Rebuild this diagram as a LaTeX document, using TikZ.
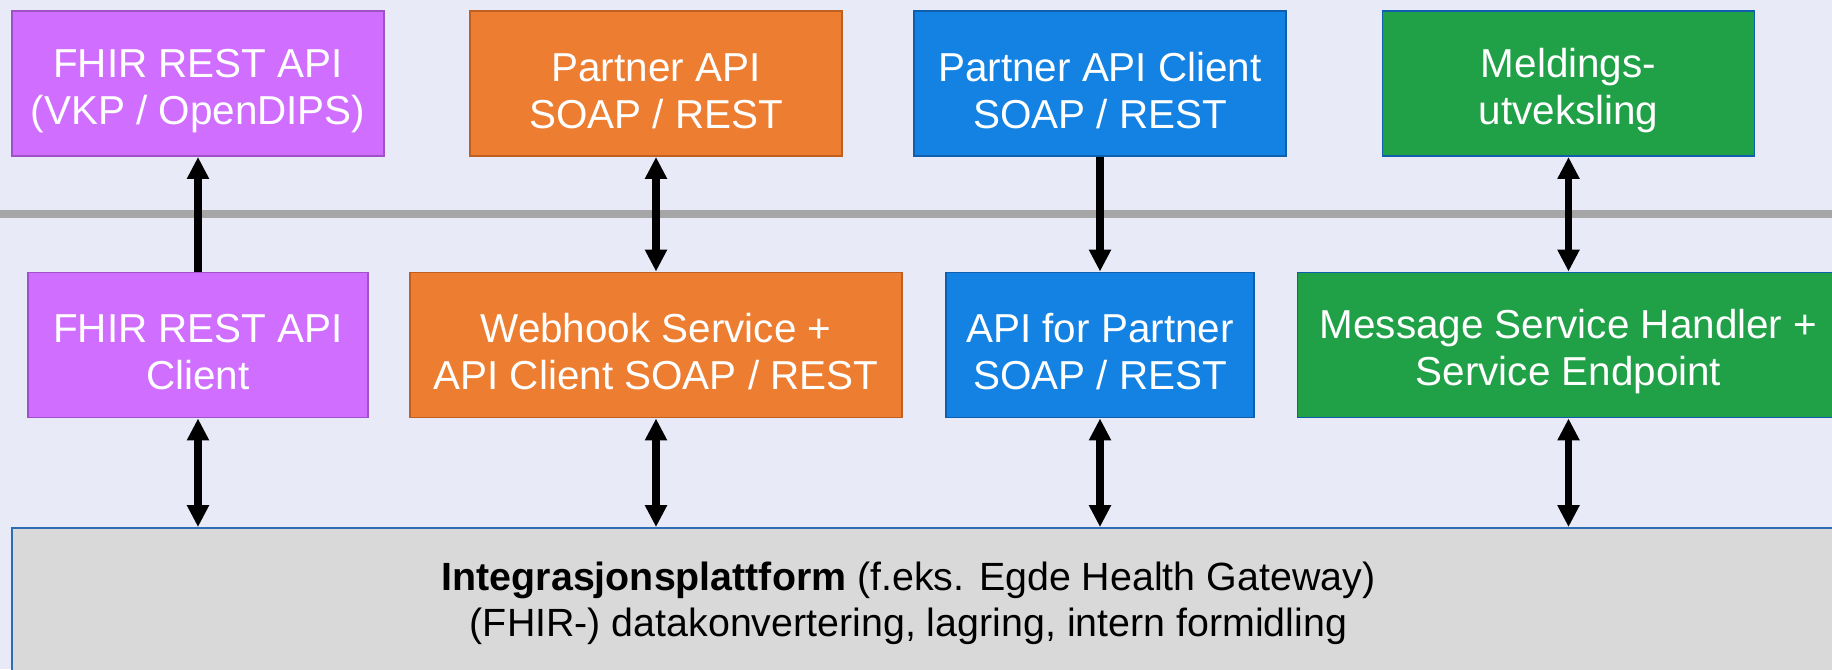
\documentclass[tikz,border=0pt]{standalone}
\usepackage{fontspec}
\setmainfont{Liberation Sans}
\usepackage{xcolor}
\usetikzlibrary{arrows.meta}
\definecolor{bgcol}{RGB}{232,234,248}
\definecolor{purplefill}{RGB}{208,110,255}
\definecolor{purpleline}{RGB}{160,80,200}
\definecolor{orangefill}{RGB}{237,125,49}
\definecolor{orangeline}{RGB}{192,96,32}
\definecolor{bluefill}{RGB}{19,130,227}
\definecolor{blueline}{RGB}{16,95,175}
\definecolor{greenfill}{RGB}{33,161,71}
\definecolor{sepcol}{RGB}{166,166,166}
\definecolor{basefill}{RGB}{217,217,217}
\definecolor{baseline}{RGB}{46,109,180}
\newcommand{\lift}{\rule{0pt}{1.07em}}

\begin{document}
\begin{tikzpicture}[-,node distance=5.23cm,
		main node/.style={rectangle, draw, line width=1.1pt, text=white, align=center, minimum height=2.9cm, font=\fontsize{23}{26.7}\selectfont},
		purple node/.style={main node, fill=purplefill, draw=purpleline},
		orange node/.style={main node, fill=orangefill, draw=orangeline},
		blue node/.style={main node, fill=bluefill, draw=blueline},
		green node/.style={main node, fill=greenfill, draw=blueline},
		link/.style={line width=4.5pt, -{Triangle[length=0.44cm,width=0.42cm]}},
		both link/.style={link, {Triangle[length=0.44cm,width=0.42cm]}-{Triangle[length=0.44cm,width=0.42cm]}}]
	\useasboundingbox (0,0) rectangle (36.64,-13.38);
	\clip (0,0) rectangle (36.64,-13.38);
	\fill[bgcol] (0,0) rectangle (36.64,-13.38);
	
	% Nodes
	\node[purple node, minimum width=7.44cm] (1) at (3.96,-1.67) {\lift FHIR REST API\\(VKP / OpenDIPS)};
	\node[orange node, minimum width=7.44cm] (2) at (13.12,-1.67) {\lift Partner API\\SOAP / REST};
	\node[blue node, minimum width=7.44cm] (3) at (22.0,-1.67) {\lift Partner API Client\\SOAP / REST};
	\node[green node, minimum width=7.44cm] (4) at (31.37,-1.67) {\lift Meldings-\\utveksling};
	
	\node[purple node, minimum width=6.8cm] (5) [below of=1] {\lift FHIR REST API\\Client};
	\node[orange node, minimum width=9.84cm] (6) [below of=2] {\lift Webhook Service +\\API Client SOAP / REST};
	\node[blue node, minimum width=6.16cm] (7) [below of=3] {\lift API for Partner\\SOAP / REST};
	\node[green node, minimum width=10.84cm] (8) [below of=4] {\lift Message Service Handler +\\Service Endpoint};
	
	\node[rectangle, draw=baseline, line width=1.1pt, fill=basefill, minimum width=36.96cm, minimum height=3.44cm] (9) at (18.72,-12.28) {};
	\node[align=center, font=\fontsize{22.4}{26.3}\selectfont] (10) at (18.17,-12.06) {\textbf{Integrasjonsplattform} (f.eks. Egde Health Gateway)\\(FHIR-) datakonvertering, lagring, intern formidling};
	
	% separator
	\draw[sepcol, line width=4.5pt] (0,-4.28) -- (36.64,-4.28);
	
	\path
	(5) edge[link] (1)
	(6) edge[both link] (2)
	(3) edge[link] (7)
	(8) edge[both link] (4);
	
	\path
	(5.south) edge[both link] (5.south |- 9.north)
	(6.south) edge[both link] (6.south |- 9.north)
	(7.south) edge[both link] (7.south |- 9.north)
	(8.south) edge[both link] (8.south |- 9.north);
	
\end{tikzpicture}
\end{document}
